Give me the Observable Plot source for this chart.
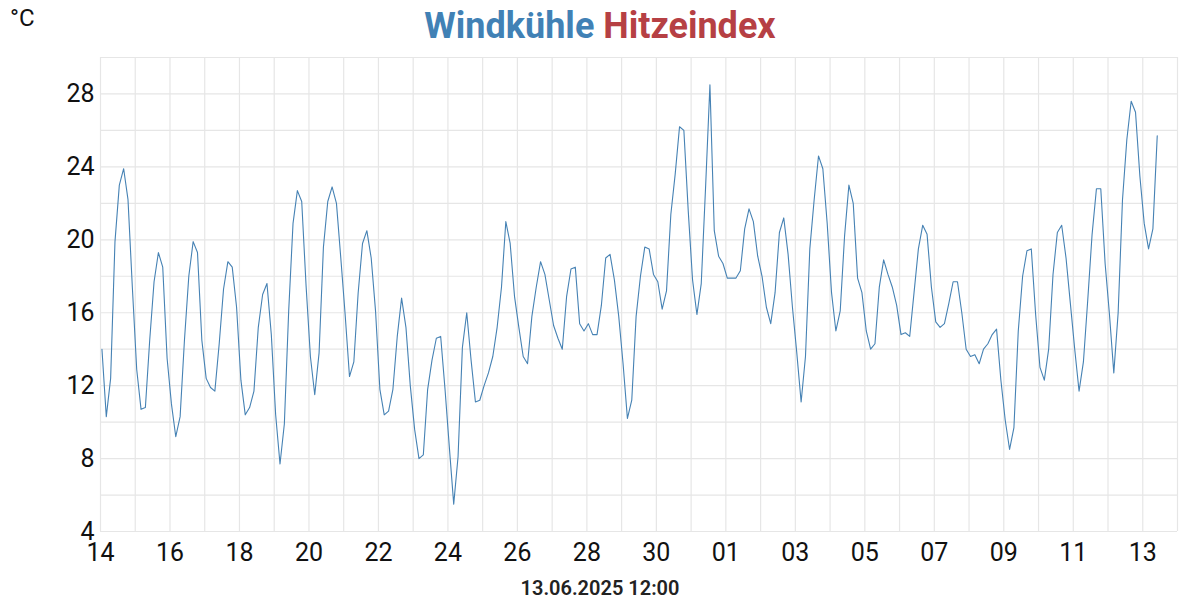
<!DOCTYPE html>
<html>
<head>
<meta charset="utf-8">
<script src="https://cdn.jsdelivr.net/npm/d3@7"></script>
<script src="https://cdn.jsdelivr.net/npm/@observablehq/plot@0.6"></script>
<style>
  html, body { margin: 0; padding: 0; background: #fff; }
  body { font-family: Roboto, "Noto Sans", sans-serif; }
  #wrap { position: relative; width: 1200px; height: 600px; overflow: hidden; }
  #title { position: absolute; left: 0; width: 1200px; top: 6px; text-align: center;
           font-size: 36px; font-weight: 700; line-height: 40px; }
  #title .wc { color: #4181b5; }
  #title .hi { color: #b64044; }
  #unit { position: absolute; left: 10px; top: 6px; font-size: 24px; line-height: 24px; color: #111; }
  #sub { position: absolute; left: 0; width: 1200px; top: 578px; text-align: center;
         font-size: 20px; line-height: 20px; font-weight: 600; color: #222; }
  #chart { position: absolute; left: 0; top: 0; }
</style>
</head>
<body>
<div id="wrap">
  <div id="chart"></div>
  <div id="title"><span class="wc">Windkühle</span> <span class="hi">Hitzeindex</span></div>
  <div id="unit">°C</div>
  <div id="sub">13.06.2025 12:00</div>
</div>
<script>
// ---- data (3-hourly readings starting 14.05.2025 01:00) ----
const startTime = "2025-05-14T01:00:00Z";
const stepHours = 3;
const windchill = [
  14.0, 10.3, 12.4, 19.9, 23.0, 23.9, 22.2, 17.4, 12.9, 10.7, 10.8, 14.5, 17.7, 19.3, 18.5, 13.5,
  11.0, 9.2, 10.3, 14.5, 18.0, 19.9, 19.3, 14.5, 12.4, 11.9, 11.7, 14.3, 17.3, 18.8, 18.5, 16.3,
  12.3, 10.4, 10.8, 11.7, 15.2, 17.0, 17.6, 14.8, 10.4, 7.7, 9.9, 16.1, 20.9, 22.7, 22.1, 17.5,
  13.6, 11.5, 13.8, 19.6, 22.1, 22.9, 22.0, 19.0, 15.9, 12.5, 13.3, 17.1, 19.8, 20.5, 19.0, 16.1,
  11.8, 10.4, 10.6, 11.8, 14.7, 16.8, 15.2, 12.0, 9.6, 8.0, 8.2, 11.8, 13.4, 14.6, 14.7, 11.8,
  8.6, 5.5, 8.1, 14.1, 16.0, 13.4, 11.1, 11.2, 12.0, 12.7, 13.6, 15.2, 17.4, 21.0, 19.8, 16.9,
  15.2, 13.6, 13.2, 15.8, 17.4, 18.8, 18.1, 16.7, 15.3, 14.6, 14.0, 16.9, 18.4, 18.5, 15.4, 15.0,
  15.4, 14.8, 14.8, 16.4, 19.0, 19.2, 17.8, 15.8, 13.2, 10.2, 11.2, 15.8, 18.0, 19.6, 19.5, 18.1,
  17.7, 16.2, 17.2, 21.4, 23.6, 26.2, 26.0, 21.6, 17.8, 15.9, 17.6, 22.9, 28.5, 20.5, 19.1, 18.7,
  17.9, 17.9, 17.9, 18.3, 20.6, 21.7, 21.0, 19.1, 18.0, 16.3, 15.4, 17.1, 20.4, 21.2, 19.2, 16.3,
  13.8, 11.1, 13.6, 19.5, 22.2, 24.6, 23.9, 20.9, 17.1, 15.0, 16.1, 20.2, 23.0, 22.0, 17.9, 17.1,
  15.0, 14.0, 14.3, 17.4, 18.9, 18.1, 17.4, 16.4, 14.8, 14.9, 14.7, 17.1, 19.5, 20.8, 20.3, 17.4,
  15.5, 15.2, 15.4, 16.5, 17.7, 17.7, 16.0, 14.0, 13.6, 13.7, 13.2, 14.0, 14.3, 14.8, 15.1, 12.3,
  10.1, 8.5, 9.7, 15.0, 18.0, 19.4, 19.5, 15.9, 13.0, 12.3, 14.0, 18.1, 20.4, 20.8, 19.0, 16.5,
  14.0, 11.7, 13.3, 16.7, 20.3, 22.8, 22.8, 18.7, 15.9, 12.7, 16.0, 22.2, 25.5, 27.6, 27.0, 23.5,
  20.9, 19.5, 20.6, 25.7
];
const yTickLabels = [4, 8, 12, 16, 20, 24, 28];
const yGridValues = [4, 6, 8, 10, 12, 14, 16, 18, 20, 22, 24, 26, 28, 30];
const xTickDates = ["2025-05-14","2025-05-16","2025-05-18","2025-05-20","2025-05-22","2025-05-24",
  "2025-05-26","2025-05-28","2025-05-30","2025-06-01","2025-06-03","2025-06-05","2025-06-07",
  "2025-06-09","2025-06-11","2025-06-13"];
const xDomain = ["2025-05-14", "2025-06-14"];
const yDomain = [4, 30];

// ---- build table ----
const t0 = new Date(startTime).getTime();
const rows = windchill.map((v, i) => ({
  time: new Date(t0 + i * stepHours * 3600e3),
  wc: v
}));
const dStart = new Date(xDomain[0] + "T00:00:00Z");
const dEnd = new Date(xDomain[1] + "T00:00:00Z");
const dayGrid = d3.utcDay.range(dStart, new Date(dEnd.getTime() + 1));
const xTicks = xTickDates.map(d => new Date(d + "T00:00:00Z"));

const chart = Plot.plot({
  width: 1200,
  height: 600,
  marginLeft: 100,
  marginRight: 23,
  marginTop: 57,
  marginBottom: 69,
  style: { fontFamily: "Roboto, sans-serif", background: "transparent" },
  x: { type: "utc", domain: [dStart, dEnd] },
  y: { domain: yDomain },
  marks: [
    Plot.gridX(dayGrid, { stroke: "#e6e6e6", strokeOpacity: 1, strokeWidth: 1.2 }),
    Plot.gridY(yGridValues, { stroke: "#e6e6e6", strokeOpacity: 1, strokeWidth: 1.2 }),
    Plot.axisX(xTicks, { tickSize: 0, tickPadding: 12, fontSize: 25, fill: "#111",
      tickFormat: d3.utcFormat("%d"), label: null }),
    Plot.axisY(yTickLabels, { tickSize: 0, tickPadding: 6, fontSize: 25, fill: "#111", label: null }),
    Plot.lineY(rows, { x: "time", y: "wc", stroke: "#4682b4", strokeWidth: 1.1 })
  ]
});
document.getElementById("chart").appendChild(chart);
</script>
</body>
</html>
